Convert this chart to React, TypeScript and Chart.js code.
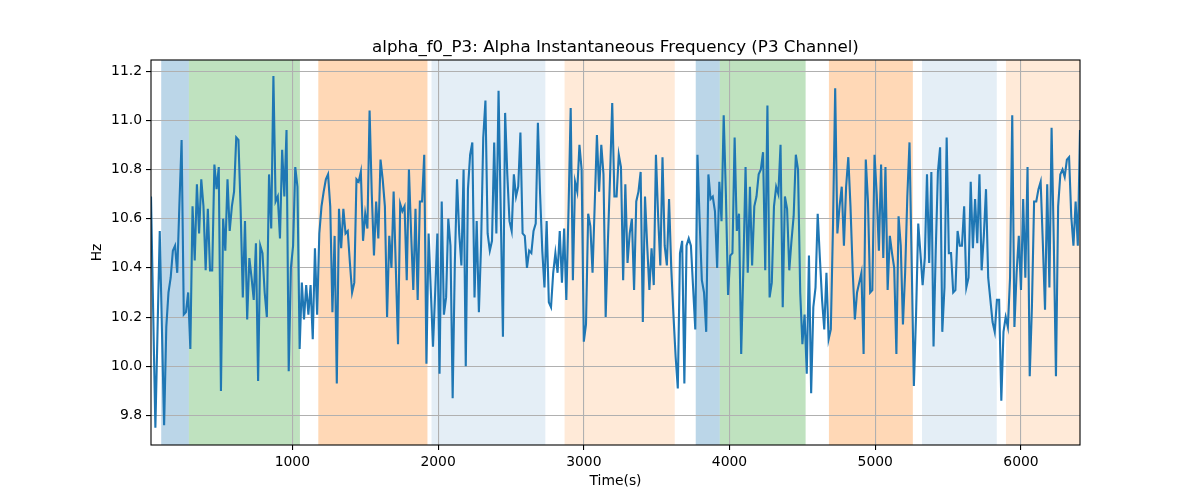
import React, { useEffect, useRef } from "react";
import { Chart, registerables } from "chart.js";

Chart.register(...registerables);

const titleText = "alpha_f0_P3: Alpha Instantaneous Frequency (P3 Channel)";
const xLabel = "Time(s)";
const yLabel = "Hz";

const startTime = 30;
const stepSeconds = 15;
const xMin = 30;
const xMax = 6405;
const yMin = 9.68;
const yMax = 11.245;

const xTickValues = [1000, 2000, 3000, 4000, 5000, 6000];
const yTickValues = [9.8, 10.0, 10.2, 10.4, 10.6, 10.8, 11.0, 11.2];

const hzValues = [
  10.69, 10.22, 9.75, 10.15, 10.55, 10.15, 9.76, 10.16, 10.30, 10.36,
  10.47, 10.49, 10.38, 10.66, 10.92, 10.21, 10.22, 10.30, 10.07, 10.65,
  10.43, 10.74, 10.54, 10.76, 10.65, 10.39, 10.64, 10.39, 10.39, 10.82,
  10.72, 10.81, 9.90, 10.60, 10.47, 10.76, 10.55, 10.65, 10.71, 10.93,
  10.92, 10.64, 10.28, 10.59, 10.19, 10.44, 10.36, 10.27, 10.50, 9.94,
  10.49, 10.46, 10.30, 10.20, 10.78, 10.56, 11.18, 10.67, 10.69, 10.52,
  10.88, 10.69, 10.96, 9.98, 10.40, 10.49, 10.81, 10.73, 10.07, 10.34,
  10.19, 10.33, 10.21, 10.33, 10.11, 10.48, 10.21, 10.54, 10.65, 10.71,
  10.76, 10.78, 10.65, 10.22, 10.53, 9.93, 10.64, 10.48, 10.64, 10.54,
  10.55, 10.42, 10.30, 10.34, 10.76, 10.75, 10.79, 10.51, 10.62, 10.56,
  11.04, 10.70, 10.45, 10.67, 10.52, 10.84, 10.76, 10.65, 10.20, 10.53,
  10.40, 10.71, 10.40, 10.09, 10.66, 10.63, 10.65, 10.35, 10.80, 10.54,
  10.31,
  10.64, 10.27, 10.67, 10.67, 10.86, 10.01, 10.54, 10.31, 10.08, 10.30,
  10.54, 9.97, 10.67, 10.21, 10.28, 10.60, 10.49, 9.87, 10.42, 10.76,
  10.54, 10.41, 10.80, 10.00, 10.72, 10.86, 10.91, 10.28, 10.59, 10.22,
  10.49, 10.93, 11.08, 10.54, 10.47, 10.51, 10.91, 10.54, 11.12, 10.63,
  10.12, 11.03, 10.78, 10.59, 10.55, 10.78, 10.69, 10.73, 10.95, 10.54,
  10.53, 10.40, 10.47, 10.46, 10.55, 10.58, 10.99, 10.70, 10.47, 10.32,
  10.59,
  10.26, 10.24, 10.38, 10.46, 10.38, 10.55, 10.34, 10.56, 10.27, 10.63,
  11.05, 10.35, 10.75, 10.71, 10.90, 10.80, 10.10, 10.17, 10.62, 10.57,
  10.38, 10.66, 10.94, 10.71, 10.90, 10.78, 10.20, 10.50, 10.77, 11.07,
  10.69, 10.69, 10.86, 10.81, 10.35, 10.74, 10.42, 10.54, 10.60, 10.31,
  10.67, 10.71, 10.79, 10.18, 10.69, 10.49, 10.31, 10.48, 10.33, 10.86,
  10.61, 10.41, 10.85, 10.49, 10.41, 10.68, 10.40, 10.21, 10.04, 9.91,
  10.46, 10.51, 9.93, 10.49, 10.52, 10.49, 10.32, 10.15, 10.86, 10.59,
  10.35, 10.30, 10.14, 10.78, 10.68, 10.69, 10.63, 10.40, 10.75, 10.59,
  11.02, 10.70, 10.29, 10.45, 10.46, 10.93, 10.55, 10.62, 10.05, 10.40,
  10.81, 10.38, 10.73, 10.41, 10.65, 10.69, 10.78, 10.80, 10.87, 10.39,
  11.06, 10.28, 10.34, 10.65, 10.73, 10.70, 10.90, 10.24, 10.69, 10.64,
  10.39, 10.51, 10.61, 10.86, 10.80, 10.30, 10.09, 10.21, 9.97, 10.45,
  9.89, 10.24, 10.32, 10.62, 10.44, 10.27, 10.15, 10.38, 10.11, 10.15,
  10.57, 11.13, 10.54, 10.65, 10.73, 10.49, 10.73, 10.85, 10.65, 10.39,
  10.19, 10.30, 10.34, 10.38, 10.05, 10.84, 10.67, 10.30, 10.31, 10.86,
  10.70, 10.47, 10.82, 10.44, 10.81, 10.31, 10.53, 10.46, 10.40, 10.05,
  10.61, 10.49, 10.17, 10.38, 10.69, 10.91, 10.42, 9.92, 10.21, 10.58,
  10.46, 10.33, 10.44, 10.78, 10.42, 10.79, 10.08, 10.47, 10.79, 10.89,
  10.14,
  10.32, 10.93, 10.46, 10.46, 10.30, 10.31, 10.55, 10.49, 10.49, 10.65,
  10.32, 10.36, 10.75, 10.48, 10.68, 10.50, 10.78, 10.39, 10.53, 10.72,
  10.36, 10.27, 10.18, 10.14, 10.27, 10.27, 9.86, 10.14, 10.20, 10.16,
  10.36, 11.02, 10.16, 10.38, 10.53, 10.31, 10.68, 10.36, 10.81, 9.96,
  10.24, 10.67, 10.67, 10.72, 10.75, 10.50, 10.23, 10.74, 10.32, 10.97,
  10.51, 9.96, 10.65, 10.78, 10.80, 10.77, 10.84, 10.85, 10.61, 10.49,
  10.67, 10.49, 10.96,
];

const bandStarts = [100, 290, 1178, 1955, 2868, 3768, 3933, 4682, 5321, 5897];
const bandEnds = [290, 1052, 1927, 2736, 3624, 3933, 4522, 5258, 5834, 6405];
const bandColors = [
  "rgba(31,119,180,0.3)",
  "rgba(44,160,44,0.3)",
  "rgba(255,127,14,0.3)",
  "rgba(31,119,180,0.12)",
  "rgba(255,127,14,0.16)",
  "rgba(31,119,180,0.3)",
  "rgba(44,160,44,0.3)",
  "rgba(255,127,14,0.3)",
  "rgba(31,119,180,0.12)",
  "rgba(255,127,14,0.16)",
];

const FONT = '"DejaVu Sans", sans-serif';

const bandsPlugin = {
  id: "bands",
  beforeDraw(chart: any) {
    const { ctx, chartArea, scales } = chart;
    const xs = scales.x;
    ctx.save();
    ctx.beginPath();
    ctx.rect(chartArea.left, chartArea.top, chartArea.right - chartArea.left, chartArea.bottom - chartArea.top);
    ctx.clip();
    for (let i = 0; i < bandStarts.length; i++) {
      const x0 = xs.getPixelForValue(bandStarts[i]);
      const x1 = xs.getPixelForValue(bandEnds[i]);
      ctx.fillStyle = bandColors[i];
      ctx.fillRect(x0, chartArea.top, x1 - x0, chartArea.bottom - chartArea.top);
    }
    ctx.restore();
  },
};

const framePlugin = {
  id: "frame",
  afterDraw(chart: any) {
    const { ctx, chartArea } = chart;
    ctx.save();
    ctx.strokeStyle = "#000";
    ctx.lineWidth = 1.1;
    ctx.strokeRect(chartArea.left, chartArea.top, chartArea.right - chartArea.left, chartArea.bottom - chartArea.top);
    ctx.fillStyle = "#000";
    ctx.textAlign = "center";
    ctx.textBaseline = "alphabetic";
    ctx.font = `16.7px ${FONT}`;
    const cx = (chartArea.left + chartArea.right) / 2;
    ctx.fillText(titleText, cx, 52);
    ctx.font = `13.9px ${FONT}`;
    ctx.textBaseline = "top";
    ctx.fillText(xLabel, cx, 474);
    ctx.save();
    ctx.translate(97, (chartArea.top + chartArea.bottom) / 2);
    ctx.rotate(-Math.PI / 2);
    ctx.textBaseline = "middle";
    ctx.fillText(yLabel, 0, 0);
    ctx.restore();
    ctx.restore();
  },
};

export default function App() {
  const canvasRef = useRef<HTMLCanvasElement | null>(null);

  useEffect(() => {
    const canvas = canvasRef.current;
    if (!canvas) return;
    const points = hzValues.map((v, i) => ({ x: startTime + i * stepSeconds, y: v }));
    const chart = new Chart(canvas, {
      type: "line",
      data: {
        datasets: [
          {
            data: points,
            borderColor: "#1f77b4",
            borderWidth: 2.1,
            pointRadius: 0,
            tension: 0,
            fill: false,
          },
        ],
      },
      options: {
        responsive: false,
        animation: false,
        events: [],
        layout: { padding: { top: 60, right: 120, left: 0, bottom: 0 } },
        plugins: {
          legend: { display: false },
          tooltip: { enabled: false },
          title: { display: false },
        },
        scales: {
          x: {
            type: "linear",
            min: xMin,
            max: xMax,
            afterBuildTicks(scale: any) {
              scale.ticks = xTickValues.map((v) => ({ value: v }));
            },
            afterFit(scale: any) {
              scale.height = 55;
            },
            border: { display: false },
            grid: {
              color: "#b0b0b0",
              lineWidth: 1.1,
              tickColor: "#000",
              tickLength: 5,
              tickWidth: 1.1,
            },
            ticks: {
              autoSkip: false,
              maxRotation: 0,
              padding: 4,
              color: "#000",
              font: { family: FONT, size: 13.9 },
              callback: (v: any) => String(v),
            },
          },
          y: {
            type: "linear",
            min: yMin,
            max: yMax,
            afterBuildTicks(scale: any) {
              scale.ticks = yTickValues.map((v) => ({ value: v }));
            },
            afterFit(scale: any) {
              scale.width = 151;
            },
            border: { display: false },
            grid: {
              color: "#b0b0b0",
              lineWidth: 1.1,
              tickColor: "#000",
              tickLength: 5,
              tickWidth: 1.1,
            },
            ticks: {
              autoSkip: false,
              padding: 4,
              color: "#000",
              font: { family: FONT, size: 13.9 },
              callback: (v: any) => Number(v).toFixed(1),
            },
          },
        },
      },
      plugins: [bandsPlugin, framePlugin],
    } as any);
    return () => chart.destroy();
  }, []);

  return (
    <div style={{ position: "fixed", left: 0, top: 0, width: 1200, height: 500, background: "#fff" }}>
      <canvas ref={canvasRef} width={1200} height={500} style={{ width: 1200, height: 500 }} />
    </div>
  );
}
